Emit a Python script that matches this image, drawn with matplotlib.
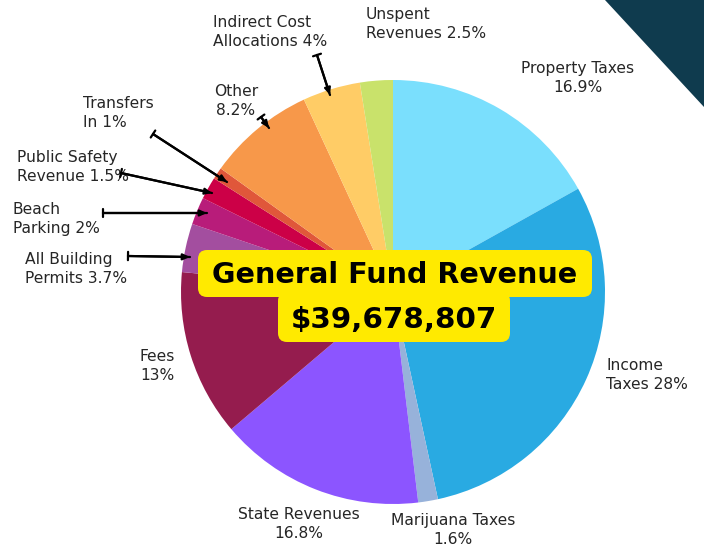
import matplotlib
matplotlib.use("Agg")
import matplotlib.pyplot as plt
from matplotlib.patches import FancyBboxPatch, Polygon, ArrowStyle

categories = ["Property Taxes", "Income Taxes", "Marijuana Taxes", "State Revenues",
              "Fees", "All Building Permits", "Beach Parking", "Public Safety Revenue",
              "Transfers In", "Other", "Indirect Cost Allocations", "Unspent Revenues"]
# slice shares as drawn in the picture (percent)
shares = [16.9, 29.7, 1.5, 15.7, 12.7, 3.7, 2.1, 1.7, 0.9, 8.2, 4.4, 2.5]
label_texts = ["Property Taxes\n16.9%", "Income\nTaxes 28%", "Marijuana Taxes\n1.6%",
               "State Revenues\n16.8%", "Fees\n13%", "All Building\nPermits 3.7%",
               "Beach\nParking 2%", "Public Safety\nRevenue 1.5%", "Transfers\nIn 1%",
               "Other\n8.2%", "Indirect Cost\nAllocations 4%", "Unspent\nRevenues 2.5%"]
colors = ["#7ADFFD", "#29AAE2", "#97B2DA", "#8C55FF", "#951C4E", "#A34E9F",
          "#B81C7A", "#CC0047", "#E0573A", "#F7984A", "#FFCC66", "#C9E26B"]
title_line1 = "General Fund Revenue"
title_line2 = "$39,678,807"

W, H = 704, 550
fig = plt.figure(figsize=(W / 100, H / 100), dpi=100)
ax = fig.add_axes([0, 0, 1, 1])

def Y(y):
    return H - y

ax.pie(shares, colors=colors, startangle=90, counterclock=False,
       center=(393, Y(292)), radius=212, frame=True,
       wedgeprops=dict(linewidth=0, edgecolor="none"))
ax.set_xlim(0, W)
ax.set_ylim(0, H)
ax.set_aspect("equal")
ax.axis("off")

# dark corner triangle
ax.add_patch(Polygon([(605, Y(0)), (704, Y(0)), (704, Y(107))], closed=True,
                     facecolor="#0F3B4E", edgecolor="none"))

# label positions: (x, y, ha)
label_pos = [(578, 78, "center"), (606, 375, "left"), (453, 530, "center"),
             (299, 524, "center"), (157, 366, "center"), (25, 269, "left"),
             (13, 219, "left"), (17, 167, "left"), (83, 113, "left"),
             (236, 101, "center"), (213, 32, "left"), (366, 24, "left")]
for txt, (x, y, ha) in zip(label_texts, label_pos):
    ax.text(x, Y(y), txt, ha=ha, va="center", fontsize=11.2, color="#262626",
            family="DejaVu Sans", linespacing=1.35)

# leader arrows: (start, end)
arrows = [((317, 55), (330, 95)), ((261, 117), (269, 128)), ((153, 134), (227, 182)),
          ((121, 173), (212, 193)), ((103, 213), (207, 213)), ((128, 256), (190, 257))]
head = ArrowStyle("-|>", head_length=0.4, head_width=0.18)
bar = ArrowStyle("]-", widthA=0.3, lengthA=0.0)
for (x0, y0), (x1, y1) in arrows:
    ax.annotate("", xy=(x1, Y(y1)), xytext=(x0, Y(y0)),
                arrowprops=dict(arrowstyle=head, color="black", lw=1.6,
                                shrinkA=0, shrinkB=0))
    ax.annotate("", xy=(x1, Y(y1)), xytext=(x0, Y(y0)),
                arrowprops=dict(arrowstyle=bar, color="black", lw=1.6,
                                shrinkA=0, shrinkB=0))

# yellow title boxes
yellow = "#FFEA00"
ax.add_patch(FancyBboxPatch((198 + 9, Y(297) + 9), 394 - 18, 47 - 18,
                            boxstyle="round,pad=9", facecolor=yellow, edgecolor="none"))
ax.add_patch(FancyBboxPatch((278 + 9, Y(342) + 9), 232 - 18, 50 - 18,
                            boxstyle="round,pad=9", facecolor=yellow, edgecolor="none"))
ax.text(395, Y(275), title_line1, ha="center", va="center", fontsize=20.6,
        fontweight="bold", family="DejaVu Sans", color="black")
ax.text(394, Y(320), title_line2, ha="center", va="center", fontsize=21.2,
        fontweight="bold", family="DejaVu Sans", color="black")

fig.savefig("out.png", dpi=100)
